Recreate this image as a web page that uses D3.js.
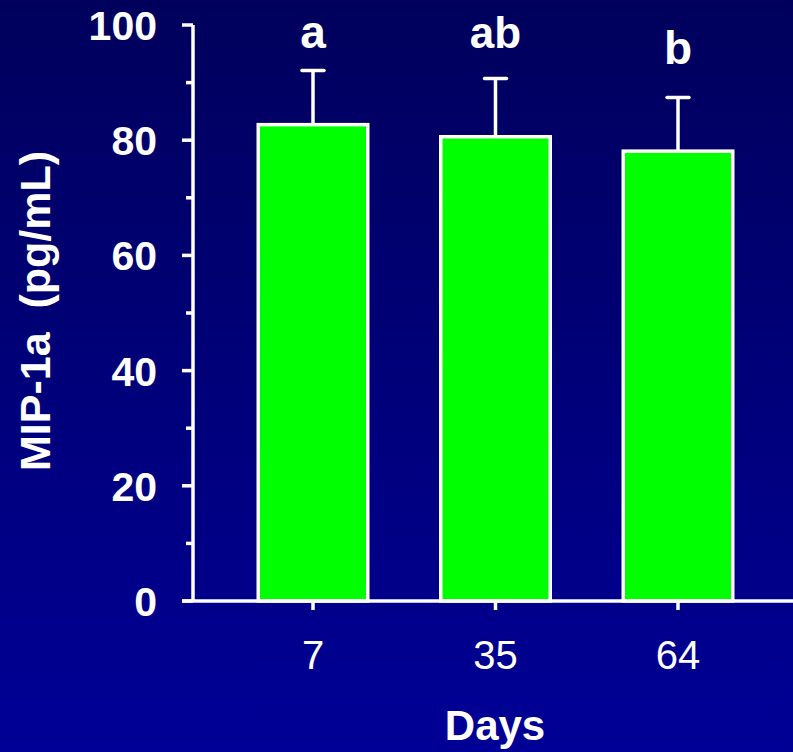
<!DOCTYPE html>
<html>
<head>
<meta charset="utf-8">
<script src="https://cdn.jsdelivr.net/npm/d3@7"></script>
<style>
  html, body { margin: 0; padding: 0; background: #000070; }
  svg { display: block; }
  text { font-family: "Liberation Sans", Arial, sans-serif; fill: #fff; }
</style>
</head>
<body>
<svg id="chart" width="793" height="752"></svg>
<script>
// MIP-1a concentration by day
const days = ["7", "35", "64"];
const means = [82.7, 80.6, 78.1];
const sds = [9.4, 10.1, 9.3];
const groups = ["a", "ab", "b"];
const yTicks = [0, 20, 40, 60, 80, 100];
const yMinorTicks = [10, 30, 50, 70, 90];

// per-letter typography for the significance marks
const letterStyle = {
  a:  { size: 46, gap: 23 },
  ab: { size: 44, gap: 31 },
  b:  { size: 46, gap: 34 }
};

const svg = d3.select("#chart");
const W = 793, H = 752;

const defs = svg.append("defs");
const grad = defs.append("linearGradient")
  .attr("id", "bg").attr("x1", 0).attr("y1", 0).attr("x2", 0).attr("y2", 1);
grad.append("stop").attr("offset", "0%").attr("stop-color", "#00005c");
grad.append("stop").attr("offset", "100%").attr("stop-color", "#000096");
svg.append("rect").attr("width", W).attr("height", H).attr("fill", "url(#bg)");

const y = d3.scaleLinear().domain([0, 100]).range([601, 25]);
const x = d3.scaleBand().domain(days).range([221.75, 769.25])
  .paddingInner(0.4).paddingOuter(0.2);

const axisX0 = 193;
const white = "#ffffff";
const sw = 3.5;

// bars
svg.append("g").selectAll("rect").data(days).join("rect")
  .attr("x", d => x(d))
  .attr("y", (d, i) => y(means[i]))
  .attr("width", x.bandwidth())
  .attr("height", (d, i) => y(0) - y(means[i]))
  .attr("fill", "#00ff00")
  .attr("stroke", white)
  .attr("stroke-width", sw);

// error bars (upper only)
const eb = svg.append("g").attr("stroke", white).attr("stroke-width", sw);
days.forEach((d, i) => {
  const cx = x(d) + x.bandwidth() / 2;
  eb.append("line").attr("x1", cx).attr("x2", cx)
    .attr("y1", y(means[i])).attr("y2", y(means[i] + sds[i]));
  eb.append("line").attr("x1", cx - 11).attr("x2", cx + 11)
    .attr("y1", y(means[i] + sds[i])).attr("y2", y(means[i] + sds[i]))
    .attr("stroke-linecap", "round");
});

// significance letters
svg.append("g").selectAll("text").data(days).join("text")
  .attr("x", d => x(d) + x.bandwidth() / 2)
  .attr("y", (d, i) => y(means[i] + sds[i]) - letterStyle[groups[i]].gap)
  .attr("text-anchor", "middle")
  .attr("font-size", (d, i) => letterStyle[groups[i]].size)
  .attr("font-weight", "bold")
  .text((d, i) => groups[i]);

// y axis
const yAxis = svg.append("g");
yAxis.append("line").attr("x1", axisX0).attr("x2", axisX0)
  .attr("y1", y(100)).attr("y2", y(0))
  .attr("stroke", white).attr("stroke-width", sw);
yAxis.selectAll(".major").data(yTicks).join("line").attr("class", "major")
  .attr("x1", axisX0 - 11).attr("x2", axisX0)
  .attr("y1", d => y(d)).attr("y2", d => y(d))
  .attr("stroke", white).attr("stroke-width", sw);
yAxis.selectAll(".minor").data(yMinorTicks).join("line").attr("class", "minor")
  .attr("x1", axisX0 - 7).attr("x2", axisX0)
  .attr("y1", d => y(d)).attr("y2", d => y(d))
  .attr("stroke", white).attr("stroke-width", sw);
yAxis.selectAll("text").data(yTicks).join("text")
  .attr("x", 157).attr("y", d => y(d) + 15)
  .attr("text-anchor", "end")
  .attr("font-size", 41).attr("font-weight", "bold")
  .text(d => d);

// x axis
const xAxis = svg.append("g");
xAxis.append("line").attr("x1", 182).attr("x2", W)
  .attr("y1", y(0)).attr("y2", y(0))
  .attr("stroke", white).attr("stroke-width", sw);
xAxis.selectAll("line.tick").data(days).join("line").attr("class", "tick")
  .attr("x1", d => x(d) + x.bandwidth() / 2).attr("x2", d => x(d) + x.bandwidth() / 2)
  .attr("y1", y(0)).attr("y2", y(0) + 9)
  .attr("stroke", white).attr("stroke-width", sw);
xAxis.selectAll("text").data(days).join("text")
  .attr("x", d => x(d) + x.bandwidth() / 2).attr("y", 669)
  .attr("text-anchor", "middle")
  .attr("font-size", 40)
  .text(d => d);

// axis titles
svg.append("text").attr("x", 495).attr("y", 740)
  .attr("text-anchor", "middle")
  .attr("font-size", 42).attr("font-weight", "bold")
  .text("Days");
svg.append("text")
  .attr("transform", "translate(50,311) rotate(-90)")
  .attr("text-anchor", "middle")
  .attr("font-size", 43).attr("font-weight", "bold")
  .attr("xml:space", "preserve")
  .style("white-space", "pre")
  .text("MIP-1a  (pg/mL)");
</script>
</body>
</html>
